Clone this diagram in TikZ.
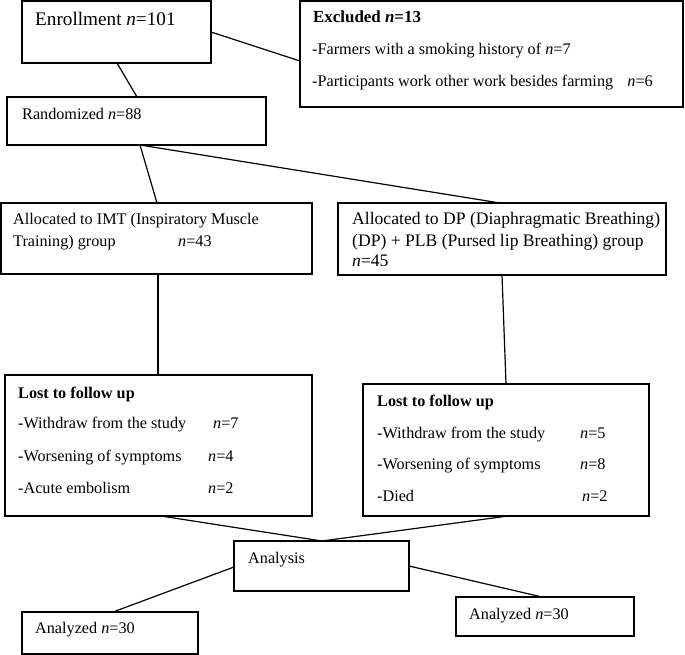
\documentclass[tikz,border=0pt]{standalone}
\usepackage{fontspec}
\setmainfont{Liberation Serif}
\begin{document}
\begin{tikzpicture}[x=1pt,y=-1pt,
  box/.style={draw=black, line width=1.2pt, fill=none, anchor=north west, inner sep=0pt, outer sep=0pt},
  txt/.style={anchor=base west, inner sep=0pt, font=\fontsize{16.2}{19}\selectfont},
  txtr/.style={anchor=base east, inner sep=0pt, font=\fontsize{16.2}{19}\selectfont},
  txtl/.style={anchor=base west, inner sep=0pt, font=\fontsize{17.6}{20}\selectfont},
  big/.style={anchor=base west, inner sep=0pt, font=\fontsize{19.2}{22}\selectfont},
  link/.style={draw=black, line width=1.2pt}]
\useasboundingbox (0,0) rectangle (685,655);
\fill[white] (0,0) rectangle (685,655);
% boxes
\node[box, minimum width=189pt, minimum height=62pt] (enr) at (22,1) {};
\node[box, minimum width=383pt, minimum height=106pt] (excl) at (300,1) {};
\node[box, minimum width=259pt, minimum height=48pt] (rand) at (7,97) {};
\node[box, minimum width=311pt, minimum height=71pt] (imt) at (1,203) {};
\node[box, minimum width=328pt, minimum height=72pt] (dp) at (338,203) {};
\node[box, minimum width=307pt, minimum height=141pt] (lostA) at (5,375) {};
\node[box, minimum width=286pt, minimum height=132pt] (lostB) at (363,384) {};
\node[box, minimum width=175pt, minimum height=50pt] (ana) at (234,541) {};
\node[box, minimum width=176pt, minimum height=42pt] (anA) at (22,612) {};
\node[box, minimum width=178pt, minimum height=39pt] (anB) at (456,597) {};
% texts
\node[big] (enrT) at (35,26) {Enrollment \textit{n}=101};
\node[txt, font=\fontsize{16.9}{20}\selectfont] (exT1) at (313,23) {\textbf{Excluded \textit{n}=13}};
\node[txt] (exT2) at (312,55) {-Farmers with a smoking history of \textit{n}=7};
\node[txt] (exT3) at (312,87) {-Participants work other work besides farming};
\node[txtr] (exT3n) at (653,87) {\textit{n}=6};
\node[txt] (randT) at (22,120) {Randomized \textit{n}=88};
\node[txt] (imtT1) at (13,225) {Allocated to IMT (Inspiratory Muscle};
\node[txt] (imtT2) at (13,246) {Training) group};
\node[txt] (imtT2n) at (178,246) {\textit{n}=43};
\node[txtl] (dpT1) at (352,225) {Allocated to DP (Diaphragmatic Breathing)};
\node[txtl] (dpT2) at (352,246) {(DP) + PLB (Pursed lip Breathing) group};
\node[txtl] (dpT3) at (352,266) {\textit{n}=45};
\node[txt] (laT1) at (18,398) {\textbf{Lost to follow up}};
\node[txt] (laT2) at (18,428) {-Withdraw from the study};
\node[txt] (laT2n) at (213,428) {\textit{n}=7};
\node[txt] (laT3) at (18,461) {-Worsening of symptoms};
\node[txt] (laT3n) at (208,461) {\textit{n}=4};
\node[txt] (laT4) at (18,493) {-Acute embolism};
\node[txt] (laT4n) at (208,493) {\textit{n}=2};
\node[txt] (lbT1) at (377,406) {\textbf{Lost to follow up}};
\node[txt] (lbT2) at (377,438) {-Withdraw from the study};
\node[txt] (lbT2n) at (580,438) {\textit{n}=5};
\node[txt] (lbT3) at (377,469) {-Worsening of symptoms};
\node[txt] (lbT3n) at (580,469) {\textit{n}=8};
\node[txt] (lbT4) at (377,501) {-Died};
\node[txt] (lbT4n) at (582,501) {\textit{n}=2};
\node[txt] (anaT) at (248,563) {Analysis};
\node[txt] (anAT) at (35,633) {Analyzed \textit{n}=30};
\node[txt] (anBT) at (469,619) {Analyzed \textit{n}=30};
% connectors
\draw[link] ([xshift=95pt]enr.south west) -- ([xshift=130pt]rand.north west);
\draw[link] (enr.east) -- ([yshift=-60pt]excl.north west);
\draw[link] ([xshift=133pt]rand.south west) -- ([xshift=156pt]imt.north west);
\draw[link] ([xshift=133pt]rand.south west) -- ([xshift=162pt]dp.north west);
\draw[link] ([xshift=157pt]imt.south west) -- ([xshift=153pt]lostA.north west);
\draw[link] ([xshift=164pt]dp.south west) -- ([xshift=143pt]lostB.north west);
\draw[link] ([xshift=156pt]lostA.south west) -- ([xshift=88pt]ana.north west);
\draw[link] ([xshift=145pt]lostB.south west) -- ([xshift=88pt]ana.north west);
\draw[link] ([yshift=-26pt]ana.north west) -- ([xshift=91pt]anA.north west);
\draw[link] ([yshift=-25pt]ana.north east) -- ([xshift=86pt]anB.north west);
\end{tikzpicture}
\end{document}
